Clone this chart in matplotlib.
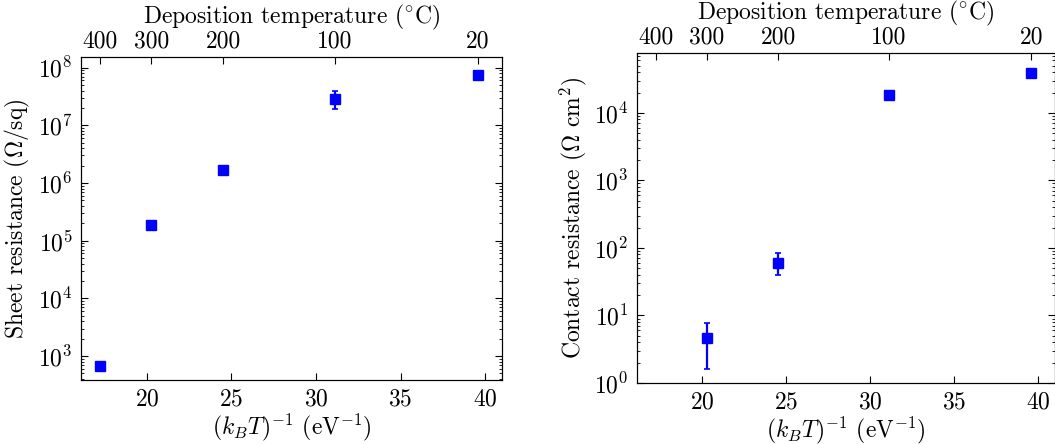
import numpy as np
import matplotlib
matplotlib.use("Agg")
import matplotlib.pyplot as plt

plt.rcParams['font.family'] = 'serif'
plt.rcParams['font.serif'] = ['cmr10']
plt.rcParams['mathtext.fontset'] = 'cm'
plt.rcParams['axes.formatter.use_mathtext'] = True
plt.rcParams['font.size'] = 17

kB = 8.617e-5  # eV/K

# temperaturer (deg C) og målte verdier
temp_ticks = [400, 300, 200, 100, 20]

sheet_T = [400, 300, 200, 100, 20]
sheet_R = [680, 1.85e5, 1.68e6, 2.85e7, 7.5e7]
sheet_lo = [0, 0, 0, 0.95e7, 0.5e7]
sheet_hi = [0, 0, 0, 1.05e7, 0.5e7]

contact_T = [300, 200, 100, 20]
contact_R = [4.6, 60, 1.83e4, 3.85e4]
contact_lo = [3.0, 20, 0, 0.35e4]
contact_hi = [3.1, 23, 0, 0.35e4]


def inv_kT(T_c):
    return 1.0 / (kB * (np.array(T_c) + 273.15))


def lag_panel(rect, T, R, lo, hi, ylabel, ylim):
    ax = fig.add_axes(rect)
    ax.errorbar(inv_kT(T), R, yerr=[lo, hi], fmt='s', color='blue',
                ms=6.5, elinewidth=1.6, capsize=2, capthick=1.2, mec='blue')
    ax.set_yscale('log')
    ax.set_xlim(16.1, 41.0)
    ax.set_ylim(*ylim)
    ax.set_xticks([20, 25, 30, 35, 40])
    ax.set_xlabel(r'$(k_BT)^{-1}$ (eV$^{-1}$)', labelpad=1)
    ax.set_ylabel(ylabel, labelpad=4)
    ax.tick_params(which='both', direction='in', right=True, top=False)
    ax.tick_params(which='major', length=5, pad=6)
    ax.tick_params(which='minor', length=2.5)

    ax2 = ax.twiny()
    ax2.set_xlim(ax.get_xlim())
    ax2.set_xticks(inv_kT(temp_ticks))
    ax2.set_xticklabels([str(t) for t in temp_ticks])
    ax2.set_xlabel(r'Deposition temperature ($^{\circ}$C)', labelpad=5)
    ax2.tick_params(direction='in', length=5, pad=3)
    return ax


fig = plt.figure(figsize=(10.55, 4.44), dpi=100)

lag_panel([0.0768, 0.1441, 0.399, 0.7275], sheet_T, sheet_R, sheet_lo, sheet_hi,
          r'Sheet resistance ($\Omega$/sq)', (3.84e2, 1.53e8))
lag_panel([0.6038, 0.1374, 0.3962, 0.7432], contact_T, contact_R, contact_lo, contact_hi,
          r'Contact resistance ($\Omega$ cm$^2$)', (1, 7.7e4))

fig.savefig('out.png', dpi=100)
